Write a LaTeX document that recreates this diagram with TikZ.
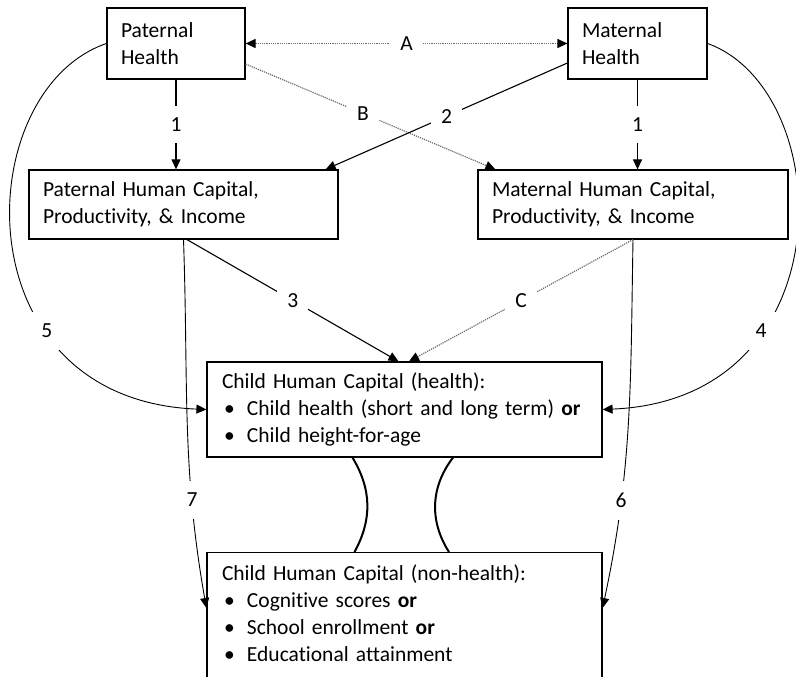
\documentclass[tikz,border=0pt]{standalone}
\usepackage{fontspec}
\setmainfont{Carlito}[Ligatures=CommonOff]
\usetikzlibrary{arrows.meta}
\tikzset{
  box/.style={draw, line width=1.2pt, align=left, inner xsep=14pt, inner ysep=0pt},
  lbl/.style={fill=white, inner xsep=10pt, inner ysep=12pt},
  dotline/.style={densely dotted, gray!85!black, line width=1.2pt},
  blk/.tip={Triangle[length=10pt,width=9pt,color=black]},
}
\newcommand{\bul}{\makebox[25pt][l]{\hspace{2pt}\textbullet}}
\begin{document}
\begin{tikzpicture}[>={Triangle[length=10pt,width=9pt]}, x=1pt, y=1pt, line width=1.1pt, font=\fontsize{21.5}{27}\selectfont]
\useasboundingbox (0,0) rectangle (796,677);
\clip (0,0) rectangle (796,677);
% parents' health
\node[box, text width=110pt, minimum height=71pt] (pat) at (176,633.5) {Paternal\\Health};
\node[box, text width=111pt, minimum height=71pt] (mat) at (637.5,633.5) {Maternal\\Health};
% parents' human capital
\node[box, text width=281pt, minimum height=69pt] (pathc) at (183.5,472.5) {Paternal Human Capital,\\Productivity, \& Income};
\node[box, text width=282pt, minimum height=69pt] (mathc) at (633,472.5) {Maternal Human Capital,\\Productivity, \& Income};
% child outcomes
\node[box, inner xsep=15pt, text width=365pt, minimum height=95pt] (chh) at (404.5,267.5)
  {Child Human Capital (health):\\
   \bul Child health (short and long term) \textbf{or}\\
   \bul Child height-for-age};
\node[box, inner xsep=15pt, inner ysep=12pt, text width=365pt, text depth=120pt, anchor=north] (chn) at (404.5,125)
  {Child Human Capital (non-health):\\
   \bul Cognitive scores \textbf{or}\\
   \bul School enrollment \textbf{or}\\
   \bul Educational attainment};
% dotted links
\draw[dotline, blk-blk] (pat.east) -- node[lbl, text=black] {A} (mat.west);
\draw[dotline, -blk] ([yshift=-20.5pt]pat.east) -- node[lbl, text=black, pos=0.47] {B} ([xshift=18pt]mathc.north west);
\draw[dotline, -blk] (mathc.south) -- node[lbl, text=black] {C} ([xshift=4.5pt]chh.north);
% solid links
\draw[->] (pat.south) -- node[lbl] {1} (pat.south |- pathc.north);
\draw[->] (mat.south) -- node[lbl] {1} (mat.south |- mathc.north);
\draw[->] ([yshift=-19.5pt]mat.west) -- node[lbl] {2} ([xshift=-13pt]pathc.north east);
\draw[->] ([xshift=3.5pt]pathc.south) -- node[lbl] {3} ([xshift=-6pt]chh.north);
% long curves
\draw[->, line width=0.9pt] (pat.west) .. controls +(-137,-47) and +(-247,10) .. node[lbl, pos=0.69] {5} (chh.west);
\draw[->, line width=0.9pt] (mat.east) .. controls +(130,-47) and +(245,10) .. node[lbl, pos=0.69] {4} (chh.east);
\draw[->, line width=0.9pt] (pathc.south) to[out=-88, in=100] node[lbl, pos=0.72] {7} ([yshift=-56pt]chn.north west);
\draw[->, line width=0.9pt] (mathc.south) to[out=-91, in=78] node[lbl, pos=0.72] {6} ([yshift=-56pt]chn.north east);
% health <-> non-health
\draw[line width=2pt] ([xshift=-52pt]chh.south) to[bend left=30] ([xshift=-50pt]chn.north);
\draw[line width=2pt] ([xshift=48.5pt]chh.south) to[bend right=35] ([xshift=44.5pt]chn.north);
\end{tikzpicture}
\end{document}
